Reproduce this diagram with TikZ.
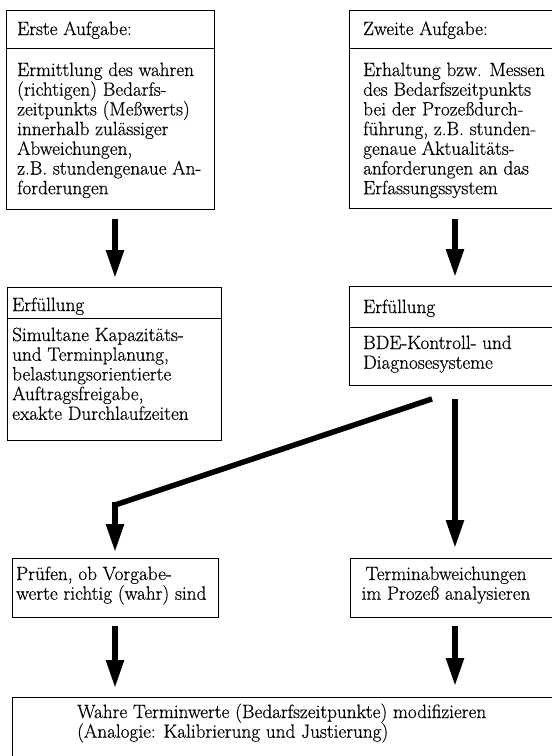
\documentclass[tikz,border=0pt]{standalone}
\usepackage{fontspec}
\setmainfont{Latin Modern Roman}[FakeBold=0.5]
\usetikzlibrary{arrows.meta,calc}
\newcommand{\blk}[2]{\parbox[t]{#1}{\raggedright\fontsize{19.2}{19.7}\selectfont #2}}
\newcommand{\cblk}[2]{\parbox[t]{#1}{\centering\fontsize{19.2}{19.7}\selectfont #2}}
\begin{document}
\begin{tikzpicture}[x=1pt,y=-1pt,
  box/.style={draw, line width=0.9pt, anchor=north west, inner sep=0pt},
  divider/.style={line width=0.8pt},
  txt/.style={anchor=base west, inner sep=0pt, font=\fontsize{19.2}{19.7}\selectfont},
  thickarrow/.style={line width=5.5pt, -{Triangle[length=28pt,width=17pt]}},
  thickline/.style={line width=5.5pt, line join=miter}]
\useasboundingbox (0,0) rectangle (552,756);
\fill[white] (0,0) rectangle (552,756);

% boxes
\node[box, minimum width=230pt, minimum height=198pt] (b2) at (349,10) {};
\node[box, minimum width=230pt, minimum height=99pt] (b4) at (349,286) {};
\node[box, minimum width=230pt, minimum height=59pt] (b6) at (350,558) {};
\node[box, minimum width=580pt, minimum height=100pt] (b7) at (12,697) {};
\node[box, minimum width=208pt, minimum height=199pt] (b1) at (6,10) {};
\node[box, minimum width=214pt, minimum height=153pt] (b3) at (7,287) {};
\node[box, minimum width=206pt, minimum height=59pt] (b5) at (12,558) {};

% dividers
\draw[divider] (b1.west |- 0,48) -- (b1.east |- 0,48);
\draw[divider] (b2.west |- 0,48) -- (b2.east |- 0,48);
\draw[divider] (b3.west |- 0,318) -- (b3.east |- 0,318);
\draw[divider] (b4.west |- 0,327) -- (b4.east |- 0,327);

% texts
\node[txt] (h1) at (17,35) {Erste Aufgabe:};
\node[txt] (x1) at (17,76) {\blk{260pt}{Ermittlung des wahren\\(richtigen) Bedarfs-\\zeitpunkts (Meßwerts)\\innerhalb zulässiger\\Abweichungen,\\z.B. stundengenaue An-\\forderungen}};
\node[txt] (h2) at (363,35) {Zweite Aufgabe:};
\node[txt] (x2) at (363,76) {\blk{260pt}{Erhaltung bzw. Messen\\des Bedarfszeitpunkts\\bei der Prozeßdurch-\\führung, z.B. stunden-\\genaue Aktualitäts-\\anforderungen an das\\Erfassungssystem}};
\node[txt] (h3) at (12,311) {Erfüllung};
\node[txt] (x3) at (12,341) {\blk{260pt}{Simultane Kapazitäts-\\und Terminplanung,\\belastungsorientierte\\Auftragsfreigabe,\\exakte Durchlaufzeiten}};
\node[txt] (h4) at (363,313) {Erfüllung};
\node[txt] (x4) at (363,349) {\blk{260pt}{BDE-Kontroll- und\\Diagnosesysteme}};
\node[txt] (x5) at (16,580) {\blk{260pt}{Prüfen, ob Vorgabe-\\werte richtig (wahr) sind}};
\node[txt, anchor=base] (x6) at (446,580) {\cblk{260pt}{Terminabweichungen\\im Prozeß analysieren}};
\node[txt] (x7) at (77,718) {\blk{500pt}{Wahre Terminwerte (Bedarfszeitpunkte) modifizieren\\(Analogie: Kalibrierung und Justierung)}};

% connectors
\coordinate (cl) at (115,0);
\coordinate (cr) at (455,0);
\coordinate (cd) at (432,0);
\coordinate (bend) at (115,505);
\draw[thickarrow] ([yshift=-9pt]b1.south -| cl) -- ([yshift=9pt]b3.north -| cl);
\draw[thickarrow] ([yshift=-10pt]b2.south -| cr) -- ([yshift=9pt]b4.north -| cr);
\draw[thickline] ([yshift=-13pt]b4.south -| cd) -- (bend);
\draw[thickarrow] ([yshift=2.7pt]bend) -- ([yshift=6pt]b5.north -| cl);
\draw[thickarrow] ([yshift=-13pt]b4.south -| cr) -- ([yshift=10pt]b6.north -| cr);
\draw[thickarrow] ([yshift=-8pt]b5.south -| cl) -- ([yshift=9pt]b7.north -| cl);
\draw[thickarrow] ([yshift=-8pt]b6.south -| cr) -- ([yshift=11pt]b7.north -| cr);
\end{tikzpicture}
\end{document}
